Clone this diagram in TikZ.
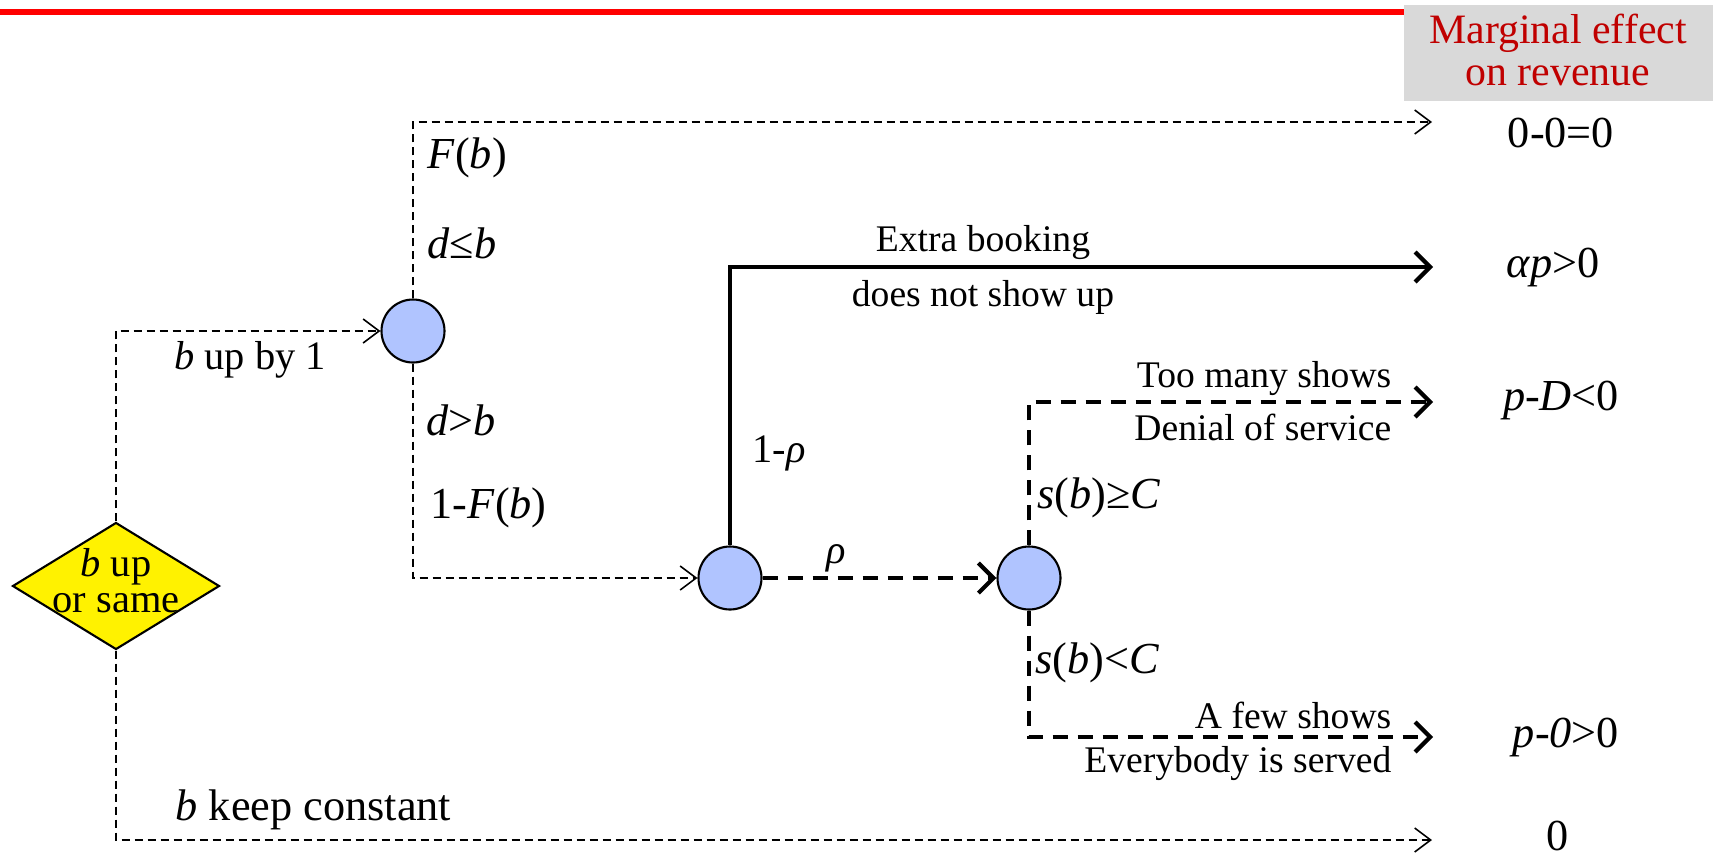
\documentclass[tikz,border=0pt]{standalone}
\usepackage{fontspec}
\setmainfont{Liberation Serif}
\usetikzlibrary{arrows.meta,shapes.geometric}
\definecolor{chanceblue}{RGB}{176,196,255}
\definecolor{headred}{RGB}{192,0,0}
\definecolor{headgray}{RGB}{217,217,217}
\begin{document}
\begin{tikzpicture}[x=0.1mm,y=-0.1mm,
  every node/.style={font=\fontsize{11.5}{13}\selectfont},
  lbl/.style={inner sep=0pt},
  big/.style={lbl,font=\fontsize{12.6}{14}\selectfont},
  small/.style={lbl,font=\fontsize{10.7}{12}\selectfont},
  chance/.style={circle,draw,line width=0.6pt,fill=chanceblue,minimum size=6.3mm,inner sep=0pt},
  decision/.style={diamond,draw,line width=0.6pt,fill=yellow,minimum width=20.7mm,minimum height=12.7mm,inner sep=0pt},
  thinflow/.style={dash pattern=on 0.8mm off 0.5mm,line width=0.45pt,-{Straight Barb[length=1.6mm,width=2.4mm]}},
  thickflow/.style={line width=1.2pt,-{Straight Barb[length=1.5mm,width=3mm]}},
  thickdash/.style={thickflow,dash pattern=on 1.5mm off 1mm}]
\useasboundingbox (0,0) rectangle (1713,856);
% header
\draw[red,line width=0.6mm] (0,12) -- (1404,12);
\fill[headgray] (1404,5) rectangle (1713,101);
\node[lbl,align=center,text=headred,font=\fontsize{11.9}{11.8}\selectfont] (head) at (1558,50) {Marginal effect\\on revenue};
% decision and chance nodes
\node[decision] (dec) at (116,586) {};
\node[lbl,align=center,font=\fontsize{11.5}{10.3}\selectfont] (dectext) at (116,581) {\textit{b} up\\or same};
\node[chance] (c1) at (413,331) {};
\node[chance] (c2) at (730,578) {};
\node[chance] (c3) at (1029,578) {};
% free ends
\coordinate (r0) at (1432,122);
\coordinate (r1) at (1433,267);
\coordinate (r2) at (1433,402);
\coordinate (r3) at (1433,737);
\coordinate (r4) at (1432,840);
% branches
\draw[thinflow] (dec.north) |- (c1.west);
\draw[thinflow] (dec.south) |- (r4);
\draw[thinflow] (c1.north) |- (r0);
\draw[thinflow] (c1.south) |- (c2.west);
\draw[thickflow] (c2.north) |- (r1);
\draw[thickdash] (c2.east) -- (c3.west);
\draw[thickdash] (c3.north) |- (r2);
\draw[thickdash] (c3.south) |- (r3);
% branch labels
\node[lbl] (up1) at (250,360) {\textit{b} up by 1};
\node[big,anchor=west] (fb) at (427,158) {\textit{F}(\textit{b})};
\node[big,anchor=west] (dleb) at (427,243) {\textit{d}≤\textit{b}};
\node[big,anchor=west] (dgtb) at (426,420) {\textit{d}>\textit{b}};
\node[big,anchor=west] (onefb) at (430,508) {1-\textit{F}(\textit{b})};
\node[small] (extra) at (983,243) {Extra booking};
\node[small] (noshow) at (983,297) {does not show up};
\node[lbl,anchor=west] (onerho) at (752,453) {1-\textit{ρ}};
\node[lbl] (rho) at (836,558) {\textit{ρ}};
\node[small,anchor=east] (many) at (1392,378) {Too many shows};
\node[small,anchor=east] (deny) at (1392,427) {Denial of service};
\node[big,anchor=west] (sgec) at (1037,498) {\textit{s}(\textit{b})≥\textit{C}};
\node[big,anchor=west] (sltc) at (1035,663) {\textit{s}(\textit{b})<\textit{C}};
\node[small,anchor=east] (few) at (1392,715) {A few shows};
\node[small,anchor=east] (served) at (1392,763) {Everybody is served};
\node[big,anchor=west] (keep) at (175,810) {\textit{b} keep constant};
% marginal effects
\node[big] (m0) at (1561,133) {0-0=0};
\node[big] (m1) at (1553,267) {\textit{αp}>0};
\node[big] (m2) at (1561,400) {\textit{p}-\textit{D}<0};
\node[big] (m3) at (1566,737) {\textit{p}-\textit{0}>0};
\node[big] (m4) at (1558,836) {0};
\end{tikzpicture}
\end{document}
